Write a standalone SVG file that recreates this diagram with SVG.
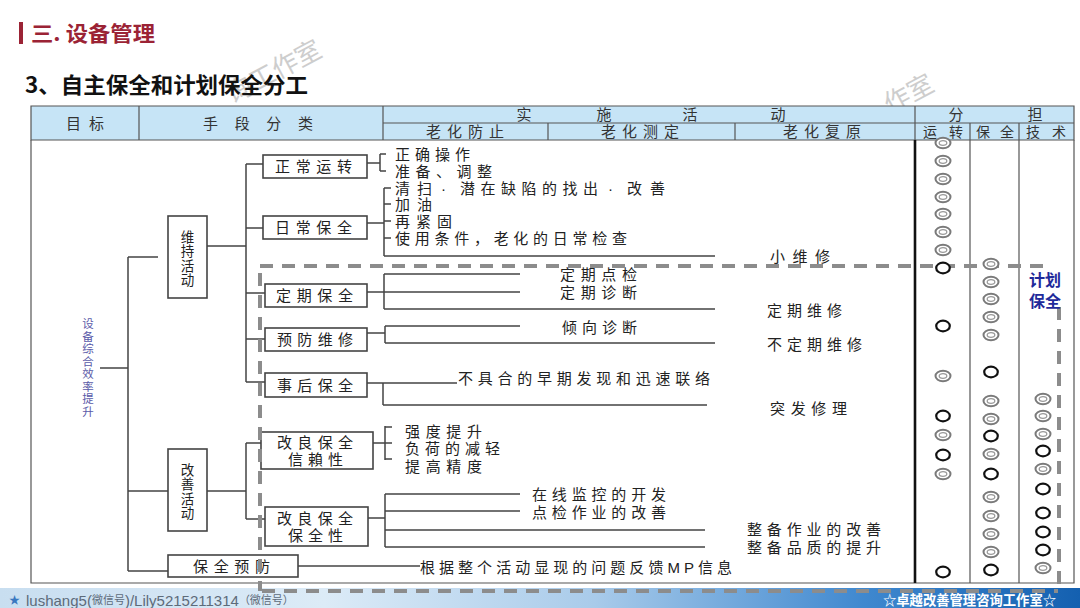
<svg xmlns="http://www.w3.org/2000/svg" xmlns:xlink="http://www.w3.org/1999/xlink" width="1080" height="608" viewBox="0 0 1080 608">
<style>
.t{font-family:"Liberation Sans","Noto Sans CJK SC",sans-serif;font-size:15px;fill:#222;dominant-baseline:central}
.v{font-family:"Noto Sans CJK SC","Noto Sans",sans-serif;fill:#222;writing-mode:vertical-rl;text-orientation:upright}
.h{font-family:"Liberation Sans","Noto Sans CJK SC",sans-serif;font-size:15px;fill:#333;dominant-baseline:central;text-anchor:middle}
.pl{font-family:"Liberation Sans","Noto Sans CJK SC",sans-serif;font-size:16px;font-weight:bold;fill:#1f2a9a;text-anchor:middle;dominant-baseline:central}
.box{fill:#fff;stroke:#444;stroke-width:1.6}
.ln{fill:none;stroke:#444;stroke-width:1.5}
.grid{fill:none;stroke:#555;stroke-width:1.2}
.dash{fill:none;stroke:#8c8c8c;stroke-width:4;stroke-dasharray:13 9}
.wm{font-family:"Noto Sans CJK SC",sans-serif;font-size:26px;fill:#bdbdbd;opacity:0.75}
</style>
<defs>
<linearGradient id="bar" x1="0" y1="0" x2="1" y2="0">
<stop offset="0" stop-color="#c8def0"/>
<stop offset="0.3" stop-color="#dcebf7"/>
<stop offset="0.55" stop-color="#a9cbea"/>
<stop offset="0.8" stop-color="#3f88cf"/>
<stop offset="1" stop-color="#1460b0"/>
</linearGradient>
<g id="dc"><ellipse cx="0" cy="0" rx="7.5" ry="5.3" fill="#fff" stroke="#7a7a7a" stroke-width="2"/><ellipse cx="0" cy="0" rx="3.8" ry="2.3" fill="none" stroke="#9a9a9a" stroke-width="1.3"/></g>
<g id="oc"><ellipse cx="0" cy="0" rx="6.8" ry="5.3" fill="#fff" stroke="#111" stroke-width="2.2"/></g>
</defs>
<rect x="0" y="0" width="1080" height="608" fill="#fff"/>

<!-- watermarks -->
<text class="wm" transform="translate(232,104) rotate(-28)">询工作室</text>
<text class="wm" transform="translate(890,114) rotate(-28)">作室</text>

<!-- titles -->
<rect x="19" y="22" width="4" height="22" fill="#9b2335"/>
<text x="31" y="41" style="font-family:'Noto Sans CJK SC',sans-serif;font-size:21px;font-weight:bold;fill:#9b2335" textLength="124" lengthAdjust="spacingAndGlyphs">三. 设备管理</text>
<text x="25" y="93" style="font-family:'Noto Sans CJK SC',sans-serif;font-size:22px;font-weight:bold;fill:#111" textLength="283" lengthAdjust="spacingAndGlyphs">3、自主保全和计划保全分工</text>

<!-- table header -->
<g id="table-header">
<rect x="31" y="106" width="1043" height="34" fill="#c6e4f6"/>
<path class="grid" d="M31,106H1074V140H31Z M139,106V140 M383,106V140 M383,123H1074 M548,123V140 M735,123V140 M915,106V140 M970,123V140 M1019,123V140"/>
<text class="h" x="85" y="123" textLength="38" lengthAdjust="spacing">目标</text>
<text class="h" x="258" y="123" textLength="110" lengthAdjust="spacing">手段分类</text>
<text class="h" x="524" y="114.5">实</text>
<text class="h" x="604" y="114.5">施</text>
<text class="h" x="690" y="114.5">活</text>
<text class="h" x="778" y="114.5">动</text>
<text class="h" x="956" y="114.5">分</text>
<text class="h" x="1035" y="114.5">担</text>
<text class="h" x="465" y="131.5" textLength="78" lengthAdjust="spacing">老化防止</text>
<text class="h" x="640" y="131.5" textLength="78" lengthAdjust="spacing">老化测定</text>
<text class="h" x="822" y="131.5" textLength="78" lengthAdjust="spacing">老化复原</text>
<text class="h" x="943" y="131.5" style="font-size:14px" textLength="40" lengthAdjust="spacing">运转</text>
<text class="h" x="995" y="131.5" style="font-size:14px" textLength="38" lengthAdjust="spacing">保全</text>
<text class="h" x="1046" y="131.5" style="font-size:14px" textLength="40" lengthAdjust="spacing">技术</text>
</g>

<!-- table body frame -->
<g id="table-body">
<path class="grid" d="M31,140V583H1074V140"/>
<path d="M915,140V583" stroke="#111" stroke-width="2.6"/>
<path class="grid" d="M970,140V583 M1019,140V583"/>
</g>

<!-- bottom bar -->
<rect x="0" y="588" width="1080" height="20" fill="url(#bar)"/>

<!-- connectors -->
<g id="connectors">
<path class="ln" d="M100,368H128 M128,257V571 M128,257H158 M128,491H168 M128,571H168"/>
<path class="ln" d="M207,246H246 M246,164V382 M246,164H263 M246,228H263 M246,293H265 M246,339H265 M246,382H265"/>
<path class="ln" d="M207,491H246 M246,443V519 M246,443H261 M246,519H265"/>
<path class="ln" d="M367,163H380 M380,154V171 M380,154H386 M380,171H386"/>
<path class="ln" d="M367,223H384 M384,188V256 M384,188H391 M384,204H391 M384,221H391 M384,238H391 M384,256H715"/>
<path class="ln" d="M367,292H384 M384,274V309 M384,274H520 M384,292H520 M384,309H715"/>
<path class="ln" d="M367,333H385 M385,326V343 M385,326H520 M385,343H715"/>
<path class="ln" d="M367,383H457 M383,383V405 M383,405H707"/>
<path class="ln" d="M373,443H385 M385,426V460 M385,427H392 M385,443H392 M385,459H392"/>
<path class="ln" d="M368,518H385 M385,494V547 M385,494H520 M385,511H520 M385,530H705 M385,547H705"/>
<path class="ln" d="M298,566H420"/>
</g>

<!-- nodes -->
<g id="n-goal">
<text class="v" x="88" y="318" style="fill:#5a5aa8;font-size:11.5px;letter-spacing:1px">设备综合效率提升</text>
</g>
<g id="n-weichi">
<rect class="box" x="168" y="216" width="39" height="82"/>
<text class="v" x="187.5" y="230" style="font-size:13.5px;letter-spacing:1px">维持活动</text>
</g>
<g id="n-gaishan">
<rect class="box" x="168" y="449" width="39" height="82"/>
<text class="v" x="187.5" y="463" style="font-size:13.5px;letter-spacing:1px">改善活动</text>
</g>
<g id="n-baoquanyufang">
<rect class="box" x="168" y="555" width="130" height="22"/>
<text class="t" x="193" y="566.5" textLength="77" lengthAdjust="spacing">保全预防</text>
</g>
<g id="n-zhengchang">
<rect class="box" x="263" y="155" width="104" height="23"/>
<text class="t" x="275" y="166.5" textLength="77" lengthAdjust="spacing">正常运转</text>
</g>
<g id="n-richang">
<rect class="box" x="263" y="216" width="104" height="23"/>
<text class="t" x="275" y="227.5" textLength="77" lengthAdjust="spacing">日常保全</text>
</g>
<g id="n-dingqi">
<rect class="box" x="265" y="284" width="102" height="23"/>
<text class="t" x="276" y="295.5" textLength="77" lengthAdjust="spacing">定期保全</text>
</g>
<g id="n-yufang">
<rect class="box" x="265" y="328" width="102" height="23"/>
<text class="t" x="277" y="339.5" textLength="76" lengthAdjust="spacing">预防维修</text>
</g>
<g id="n-shihou">
<rect class="box" x="265" y="373" width="102" height="24"/>
<text class="t" x="277" y="385" textLength="76" lengthAdjust="spacing">事后保全</text>
</g>
<g id="n-xinlai">
<rect class="box" x="261" y="432" width="112" height="37"/>
<text class="t" x="277" y="442.5" textLength="76" lengthAdjust="spacing">改良保全</text>
<text class="t" x="288" y="459" textLength="55" lengthAdjust="spacing">信賴性</text>
</g>
<g id="n-baoquanxing">
<rect class="box" x="265" y="507" width="103" height="39"/>
<text class="t" x="277" y="518" textLength="76" lengthAdjust="spacing">改良保全</text>
<text class="t" x="288" y="535" textLength="55" lengthAdjust="spacing">保全性</text>
</g>

<!-- activity labels -->
<g id="labels">
<text class="t" x="395" y="154" textLength="75" lengthAdjust="spacing">正确操作</text>
<text class="t" x="395" y="171" textLength="97" lengthAdjust="spacing">准备、调整</text>
<text class="t" x="395" y="188" textLength="37" lengthAdjust="spacing">清扫</text>
<text class="t" x="441" y="188">·</text>
<text class="t" x="460" y="188" textLength="138" lengthAdjust="spacing">潜在缺陷的找出</text>
<text class="t" x="608" y="188">·</text>
<text class="t" x="627" y="188" textLength="38" lengthAdjust="spacing">改善</text>
<text class="t" x="395" y="204.5" textLength="37" lengthAdjust="spacing">加油</text>
<text class="t" x="395" y="221" textLength="57" lengthAdjust="spacing">再紧固</text>
<text class="t" x="395" y="238" textLength="232" lengthAdjust="spacing">使用条件，老化的日常检查</text>
<text class="t" x="770" y="256" textLength="60" lengthAdjust="spacing">小维修</text>
<text class="t" x="560" y="274" textLength="77" lengthAdjust="spacing">定期点检</text>
<text class="t" x="560" y="292" textLength="77" lengthAdjust="spacing">定期诊断</text>
<text class="t" x="767" y="310" textLength="75" lengthAdjust="spacing">定期维修</text>
<text class="t" x="562" y="327" textLength="75" lengthAdjust="spacing">倾向诊断</text>
<text class="t" x="767" y="344" textLength="95" lengthAdjust="spacing">不定期维修</text>
<text class="t" x="458" y="378.5" textLength="252" lengthAdjust="spacing">不具合的早期发现和迅速联络</text>
<text class="t" x="770" y="408" textLength="77" lengthAdjust="spacing">突发修理</text>
<text class="t" x="405" y="431" textLength="77" lengthAdjust="spacing">强度提升</text>
<text class="t" x="405" y="448.5" textLength="95" lengthAdjust="spacing">负荷的减轻</text>
<text class="t" x="405" y="466" textLength="77" lengthAdjust="spacing">提高精度</text>
<text class="t" x="532" y="494.5" textLength="134" lengthAdjust="spacing">在线监控的开发</text>
<text class="t" x="532" y="512" textLength="134" lengthAdjust="spacing">点检作业的改善</text>
<text class="t" x="747" y="529" textLength="134" lengthAdjust="spacing">整备作业的改善</text>
<text class="t" x="747" y="547" textLength="134" lengthAdjust="spacing">整备品质的提升</text>
<text class="t" x="420" y="567" textLength="312" lengthAdjust="spacing">根据整个活动显现的问题反馈MP信息</text>
</g>

<!-- planned maintenance dashed region -->
<g id="plan-region">
<path class="dash" d="M260,266H1052"/>
<path class="dash" d="M260,273V591 M262,591H1058"/>
<path class="dash" d="M1059,307V590"/>
<text class="pl" x="1045" y="280">计划</text>
<text class="pl" x="1045" y="301">保全</text>
</g>

<!-- responsibility marks -->
<g id="marks">
<use href="#dc" x="943" y="143"/><use href="#dc" x="943" y="161"/><use href="#dc" x="943" y="179"/><use href="#dc" x="943" y="197"/><use href="#dc" x="943" y="214"/><use href="#dc" x="943" y="232"/><use href="#dc" x="943" y="250"/>
<use href="#oc" x="943" y="268"/><use href="#oc" x="943" y="326"/><use href="#dc" x="943" y="376"/><use href="#oc" x="943" y="416"/><use href="#dc" x="943" y="435"/><use href="#oc" x="943" y="455"/><use href="#dc" x="943" y="474"/><use href="#oc" x="943" y="572"/>
<use href="#dc" x="991" y="264"/><use href="#dc" x="991" y="282"/><use href="#dc" x="991" y="299"/><use href="#dc" x="991" y="317"/><use href="#dc" x="991" y="335"/><use href="#oc" x="991" y="372"/><use href="#dc" x="991" y="401"/><use href="#dc" x="991" y="419"/><use href="#oc" x="991" y="436"/><use href="#dc" x="991" y="454"/><use href="#oc" x="991" y="474"/><use href="#dc" x="991" y="497"/><use href="#dc" x="991" y="516"/><use href="#dc" x="991" y="534"/><use href="#dc" x="991" y="552"/><use href="#oc" x="991" y="570"/>
<use href="#dc" x="1043" y="399"/><use href="#dc" x="1043" y="416"/><use href="#dc" x="1043" y="434"/><use href="#oc" x="1043" y="451"/><use href="#dc" x="1043" y="469"/><use href="#oc" x="1043" y="489"/><use href="#oc" x="1043" y="513"/><use href="#oc" x="1043" y="532"/><use href="#oc" x="1043" y="550"/><use href="#dc" x="1043" y="568"/>
</g>

<!-- footer texts -->
<text x="9" y="600" style="font-family:'Liberation Sans','Noto Sans CJK SC',sans-serif;font-size:15px;fill:#5d6b7a;dominant-baseline:central"><tspan style="fill:#3a78c0;font-size:11px">★</tspan><tspan x="26">lushang5(</tspan><tspan style="font-size:11px">微信号</tspan><tspan>)/Lily5215211314</tspan><tspan style="font-size:11px">（微信号）</tspan></text>
<text x="883" y="599" style="font-family:'Noto Sans CJK SC',sans-serif;font-size:14px;font-weight:bold;fill:#fff;dominant-baseline:central" textLength="173" lengthAdjust="spacingAndGlyphs">☆卓越改善管理咨询工作室☆</text>
</svg>
